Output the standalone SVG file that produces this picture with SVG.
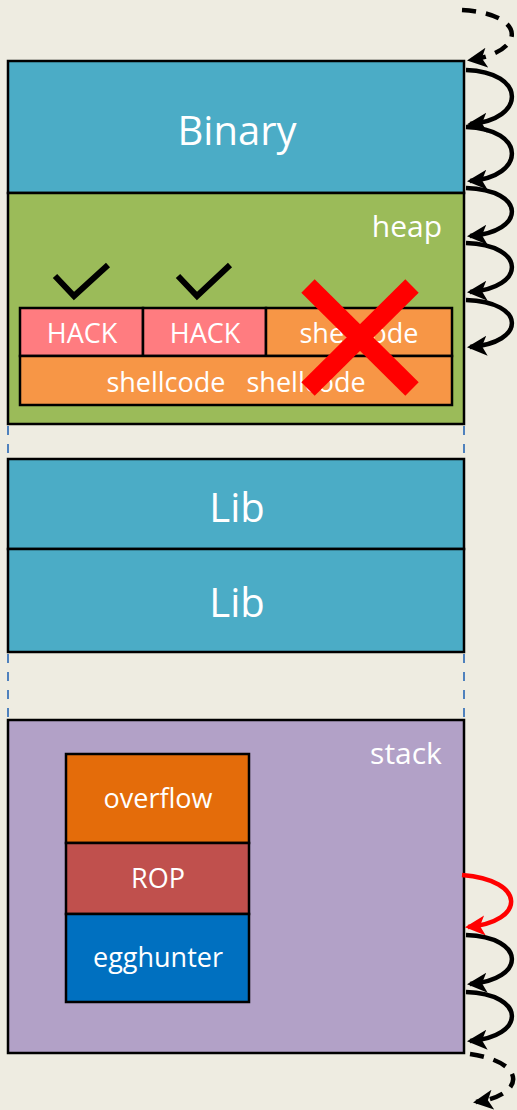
<svg xmlns="http://www.w3.org/2000/svg" width="517" height="1110" viewBox="0 0 517 1110">
<style>
.box{stroke:#000;stroke-width:2.5}
.t{font-family:"Open Sans","Noto Sans",sans-serif;fill:#fff;text-anchor:middle}
.big{font-size:40px}
.mid{font-size:30px}
.sm{font-size:27px}
.loop{fill:none;stroke:#000;stroke-width:4.5}
.dash{stroke-dasharray:14 10}
.sep{stroke:#4F81BD;stroke-width:2;stroke-dasharray:9 9;fill:none}
</style>
<defs>
<marker id="ah" markerUnits="userSpaceOnUse" markerWidth="24" markerHeight="24" refX="17" refY="10" orient="auto">
<path d="M0,0 L20,10 L0,20 L5,10 Z" fill="#000"/>
</marker>
<marker id="ahr" markerUnits="userSpaceOnUse" markerWidth="24" markerHeight="24" refX="17" refY="10" orient="auto">
<path d="M0,0 L20,10 L0,20 L5,10 Z" fill="#FF0000"/>
</marker>
</defs>
<rect width="517" height="1110" fill="#EEECE1"/>
<g id="separators">
<line class="sep" x1="8" y1="426" x2="8" y2="459"/>
<line class="sep" x1="464" y1="426" x2="464" y2="459"/>
<line class="sep" x1="8" y1="654" x2="8" y2="720"/>
<line class="sep" x1="464" y1="654" x2="464" y2="720"/>
</g>
<g id="binary">
<rect class="box" x="8" y="61" width="456" height="132" fill="#4BACC6"/>
<text class="t big" x="237" y="145">Binary</text>
</g>
<g id="heap">
<rect class="box" x="8" y="193" width="456" height="231" fill="#9BBB59"/>
<text class="t mid" x="407" y="237">heap</text>
</g>
<g id="hack1">
<rect class="box" x="20" y="308" width="123" height="48" fill="#FF7C80"/>
<text class="t sm" x="82" y="343">HACK</text>
</g>
<g id="hack2">
<rect class="box" x="143" y="308" width="123" height="48" fill="#FF7C80"/>
<text class="t sm" x="205" y="343">HACK</text>
</g>
<g id="shellcode1">
<rect class="box" x="266" y="308" width="186" height="48" fill="#F79646"/>
<text class="t sm" x="359" y="343">shellcode</text>
</g>
<g id="shellcode2">
<rect class="box" x="20" y="356" width="432" height="49" fill="#F79646"/>
<text class="t sm" x="236" y="392" xml:space="preserve">shellcode   shellcode</text>
</g>
<g id="checks" fill="none" stroke="#000" stroke-width="6">
<path d="M55,276 L74,296 L108,265"/>
<path d="M178,276 L197,296 L230,265"/>
</g>
<g id="cross" stroke="#FF0000" stroke-width="19">
<line x1="308" y1="286" x2="412" y2="389"/>
<line x1="412" y1="286" x2="308" y2="389"/>
</g>
<g id="lib1">
<rect class="box" x="8" y="459" width="456" height="90" fill="#4BACC6"/>
<text class="t big" x="237" y="522">Lib</text>
</g>
<g id="lib2">
<rect class="box" x="8" y="549" width="456" height="103" fill="#4BACC6"/>
<text class="t big" x="237" y="617">Lib</text>
</g>
<g id="stack">
<rect class="box" x="8" y="720" width="456" height="333" fill="#B2A1C7"/>
<text class="t mid" x="406" y="764">stack</text>
</g>
<g id="overflow">
<rect class="box" x="66" y="754" width="183" height="89" fill="#E46C0A"/>
<text class="t sm" x="158" y="808">overflow</text>
</g>
<g id="rop">
<rect class="box" x="66" y="843" width="183" height="71" fill="#C0504D"/>
<text class="t sm" x="158" y="888">ROP</text>
</g>
<g id="egghunter">
<rect class="box" x="66" y="914" width="183" height="88" fill="#0070C0"/>
<text class="t sm" x="158" y="967">egghunter</text>
</g>
<g id="connectors">
<path class="loop dash" d="M462,10 C528,14 526,52 470,60" marker-end="url(#ah)"/>
<path class="loop" d="M466,70 C527,72 526,120 470,124" marker-end="url(#ah)"/>
<path class="loop" d="M466,127 C527,129 526,177 470,181" marker-end="url(#ah)"/>
<path class="loop" d="M466,188 C527,190 526,232 470,236" marker-end="url(#ah)"/>
<path class="loop" d="M466,243 C527,245 526,288 470,292" marker-end="url(#ah)"/>
<path class="loop" d="M466,300 C527,302 526,343 470,347" marker-end="url(#ah)"/>
<path class="loop" d="M462,875 C527,880 526,922 468,927" style="stroke:#FF0000" marker-end="url(#ahr)"/>
<path class="loop" d="M466,935 C527,937 526,980 470,984" marker-end="url(#ah)"/>
<path class="loop" d="M466,992 C527,994 526,1037 470,1041" marker-end="url(#ah)"/>
<path class="loop dash" d="M470,1054 C527,1062 526,1095 476,1102" marker-end="url(#ah)"/>
</g>
</svg>
